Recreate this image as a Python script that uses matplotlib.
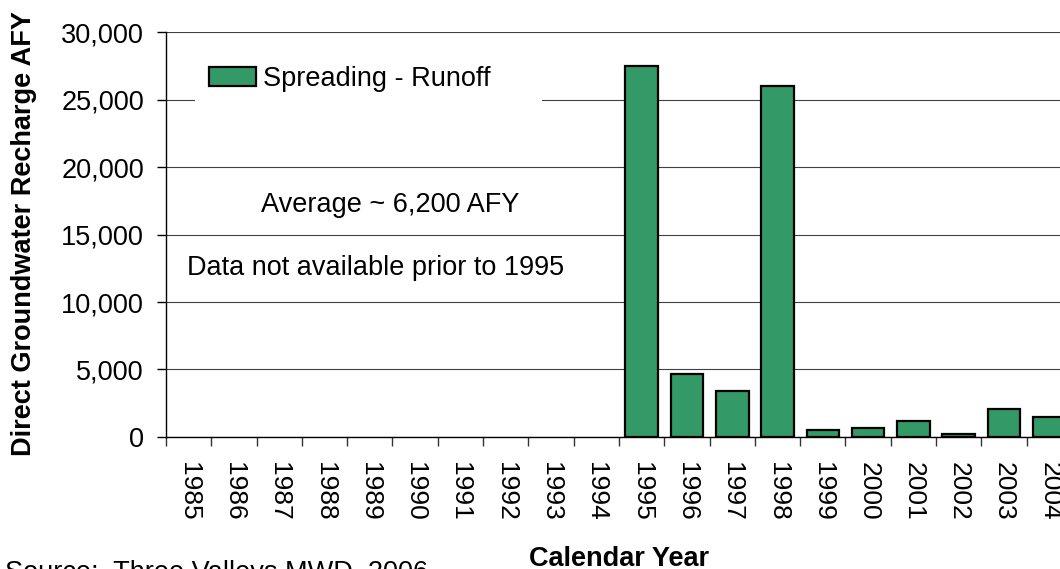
import matplotlib
matplotlib.use('Agg')
import matplotlib.pyplot as plt
import matplotlib.ticker as mticker
from matplotlib.patches import Rectangle
import numpy as np


years = [str(y) for y in range(1985, 2005)]
# no runoff data before 1995
runoff = [np.nan] * 10 + [27500, 4700, 3400, 26000, 500, 700, 1150, 250, 2100, 1500]
y_ticks = [0, 5000, 10000, 15000, 20000, 25000, 30000]

plt.rcParams['font.family'] = ['Liberation Sans', 'DejaVu Sans']

fig = plt.figure(figsize=(10.6, 5.69), dpi=100)
# axes run a bit past the right edge of the page, same as the original sheet
ax = fig.add_axes([0.1566, 0.232, 0.8547, 0.7117])

x = np.arange(len(years))
ax.bar(x, np.array(runoff, dtype=float), width=0.72, color='#339966',
       edgecolor='black', linewidth=1.6, zorder=2, label='Spreading - Runoff')

ax.set_xlim(-0.5, len(years) - 0.5)
ax.set_ylim(0, 30000)
ax.set_yticks(y_ticks)
ax.yaxis.set_major_formatter(mticker.StrMethodFormatter('{x:,.0f}'))

ax.set_axisbelow(True)
ax.yaxis.grid(True, color='#404040', linewidth=0.8)

for side in ['top', 'right']:
    ax.spines[side].set_visible(False)
ax.spines['left'].set_linewidth(1)
ax.spines['bottom'].set_linewidth(1)

# year labels at bar centres, tick marks on the category boundaries
ax.set_xticks(x)
ax.set_xticklabels(years, rotation=270, fontsize=19)
ax.tick_params(axis='x', which='major', length=0, pad=18)
ax.set_xticks(np.arange(len(years) + 1) - 0.5, minor=True)
ax.tick_params(axis='x', which='minor', length=6.5, width=1, color='#333333')
ax.tick_params(axis='y', labelsize=19.5, length=6.5, width=1, pad=9.4)

ax.set_ylabel('Direct Groundwater Recharge AFY', fontsize=19.5,
              fontweight='bold', va='center')
ax.yaxis.set_label_coords(-0.157, 0.5025)
ax.set_xlabel('Calendar Year', fontsize=19.5, fontweight='bold', va='baseline')
ax.xaxis.set_label_coords(0.5, -0.318)

# white patch behind the legend hides the 25,000 grid line there
ax.add_patch(Rectangle((0.032, 0.783), 0.383, 0.168, transform=ax.transAxes,
                       facecolor='white', edgecolor='none', zorder=1))
ax.legend(loc='center left', bbox_to_anchor=(0.0475, 0.884), frameon=False,
          fontsize=19.5, borderpad=0, borderaxespad=0,
          handlelength=1.73, handleheight=0.66, handletextpad=0.26)

ax.text(0.247, 0.573, 'Average ~ 6,200 AFY', transform=ax.transAxes,
        fontsize=19.5, ha='center', va='center')
ax.text(0.0228, 0.417, 'Data not available prior to 1995', transform=ax.transAxes,
        fontsize=19.5, ha='left', va='center')

fig.text(0.005, -0.0193, 'Source:  Three Valleys MWD, 2006', fontsize=19.5,
         ha='left', va='baseline')

plt.savefig('out.png', dpi=100)
